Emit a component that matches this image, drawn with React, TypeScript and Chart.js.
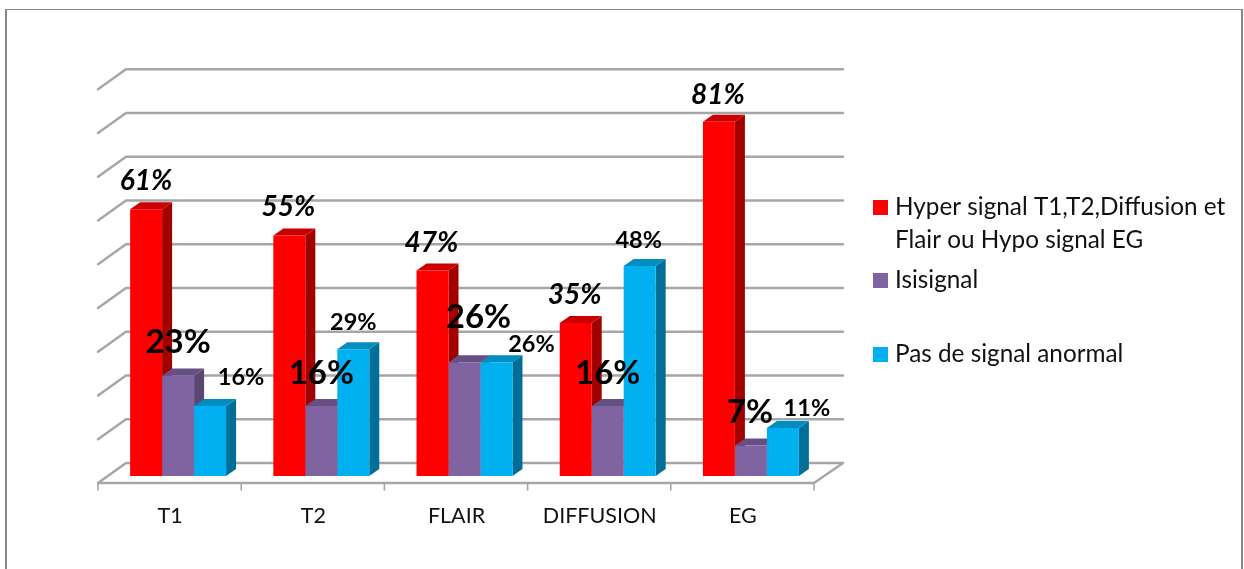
import React, { useEffect, useRef } from "react";
import { Chart, registerables } from "chart.js";

Chart.register(...registerables);

const categories = ["T1", "T2", "FLAIR", "DIFFUSION", "EG"];
const hyperSignal = [61, 55, 47, 35, 81];
const isoSignal = [23, 16, 26, 16, 7];
const noSignal = [16, 29, 26, 48, 11];
const seriesNames = ["Hyper signal T1,T2,Diffusion et\nFlair ou Hypo signal EG", "Isisignal", "Pas de signal anormal"];

// Front, side and top shades of each series' prisms.
const faces = [
  { front: "#ff0000", side: "#a30000", top: "#cc0000" },
  { front: "#8064a2", side: "#5b4673", top: "#664f82" },
  { front: "#00b0f0", side: "#006f98", top: "#008dc0" },
];

// Per-label nudges relative to the centre of the bar's top edge.
const labelNudges = [
  [[0, -28], [-1, -28], [-1, -27], [-1, -28], [-1, -27]],
  [[0, -33], [0, -33], [14, -45], [0, -33], [-1, -33]],
  [[31, -29], [0, -27], [35, -18], [-1, -26], [24, -19]],
];
const labelFonts = ["italic bold 28px Lato", "bold 33px Lato", "bold 23.5px Lato"];

const legendRows = [
  { swatchY: 200, lines: [215, 248] },
  { swatchY: 273, lines: [288] },
  { swatchY: 347, lines: [362] },
];

const GRID = "#a6a6a6";
const FLOOR_DX = 8.5;
const FLOOR_DY = 7;
const WALL_DX = 19.5;
const WALL_DY = 13;
const BAR_DX = 10;
const BAR_DY = 7;

const poly = (ctx: CanvasRenderingContext2D, pts: number[][], fill: string) => {
  ctx.beginPath();
  pts.forEach(([x, y], i) => (i ? ctx.lineTo(x, y) : ctx.moveTo(x, y)));
  ctx.closePath();
  ctx.fillStyle = fill;
  ctx.fill();
};

// White page with the chart frame (no bottom edge inside the canvas).
const framePlugin = {
  id: "frame",
  beforeDraw(chart: any) {
    const { ctx, width, height } = chart;
    ctx.save();
    ctx.fillStyle = "#ffffff";
    ctx.fillRect(0, 0, width, height);
    ctx.fillStyle = "#8a8a8a";
    ctx.fillRect(5, 9, 1236, 1);
    ctx.fillRect(5, 9, 2, height - 9);
    ctx.fillRect(1241, 9, 2, height - 9);
    ctx.restore();
  },
};

// Back wall, floor and the prism sides and tops behind the native bar fronts.
const depthPlugin = {
  id: "depth",
  beforeDatasetsDraw(chart: any) {
    const { ctx, chartArea, scales } = chart;
    const y = scales.y;
    const left = chartArea.left - FLOOR_DX;
    const right = chartArea.right - FLOOR_DX;
    const backLeft = chartArea.left + WALL_DX;
    const backRight = chartArea.right + WALL_DX + 1;
    const floorY = y.getPixelForValue(0) + FLOOR_DY;
    ctx.save();
    ctx.strokeStyle = GRID;
    ctx.lineWidth = 2.4;
    ctx.lineCap = "round";
    ctx.lineJoin = "round";
    y.ticks.forEach((t: any) => {
      const py = y.getPixelForValue(t.value);
      ctx.beginPath();
      ctx.moveTo(left, py + FLOOR_DY);
      ctx.lineTo(backLeft, py - WALL_DY);
      ctx.lineTo(backRight, py - WALL_DY);
      ctx.stroke();
    });
    ctx.beginPath();
    ctx.moveTo(left, floorY);
    ctx.lineTo(right, floorY);
    ctx.lineTo(backRight, floorY - WALL_DY - FLOOR_DY);
    ctx.stroke();
    ctx.lineWidth = 1.6;
    const step = (chartArea.right - chartArea.left) / categories.length;
    for (let i = 0; i <= categories.length; i++) {
      ctx.beginPath();
      ctx.moveTo(left + i * step, floorY);
      ctx.lineTo(left + i * step, floorY + 7);
      ctx.stroke();
    }
    ctx.restore();

    chart.data.datasets.forEach((_: any, d: number) => {
      chart.getDatasetMeta(d).data.forEach((bar: any) => {
        const l = bar.x - bar.width / 2;
        const r = bar.x + bar.width / 2;
        poly(ctx, [[r, bar.y], [r + BAR_DX, bar.y - BAR_DY], [r + BAR_DX, bar.base - BAR_DY], [r, bar.base]], faces[d].side);
        poly(ctx, [[l, bar.y], [l + BAR_DX, bar.y - BAR_DY], [r + BAR_DX, bar.y - BAR_DY], [r, bar.y]], faces[d].top);
      });
    });
  },
};

// Percentage labels and the legend block on the right.
const annotationPlugin = {
  id: "annotations",
  afterDatasetsDraw(chart: any) {
    const { ctx } = chart;
    ctx.save();
    ctx.fillStyle = "#000000";
    ctx.textAlign = "center";
    ctx.textBaseline = "middle";
    chart.data.datasets.forEach((ds: any, d: number) => {
      ctx.font = labelFonts[d];
      chart.getDatasetMeta(d).data.forEach((bar: any, i: number) => {
        const [nx, ny] = labelNudges[d][i];
        ctx.fillText(`${ds.data[i]}%`, bar.x + nx, bar.y + ny);
      });
    });
    ctx.textAlign = "left";
    ctx.textBaseline = "alphabetic";
    ctx.font = "24.3px Lato";
    chart.data.datasets.forEach((ds: any, d: number) => {
      const row = legendRows[d];
      ctx.fillStyle = faces[d].front;
      ctx.fillRect(873, row.swatchY, 15, 15);
      ctx.fillStyle = "#111111";
      ds.label.split("\n").forEach((line: string, n: number) => {
        ctx.fillText(line, 895, row.lines[n]);
      });
    });
    ctx.restore();
  },
};

export default function App() {
  const ref = useRef<HTMLCanvasElement>(null);
  useEffect(() => {
    document.body.style.margin = "0";
    const chart = new Chart(ref.current as HTMLCanvasElement, {
      type: "bar",
      data: {
        labels: categories,
        datasets: [hyperSignal, isoSignal, noSignal].map((values, i) => ({
          label: seriesNames[i],
          data: values,
          backgroundColor: faces[i].front,
          borderWidth: 0,
          barPercentage: 1,
          categoryPercentage: 0.67,
        })),
      },
      options: {
        animation: false,
        responsive: false,
        layout: { padding: { left: 106.5, right: 421.5, top: 82.25, bottom: 0 } },
        plugins: { legend: { display: false }, tooltip: { enabled: false } },
        scales: {
          x: {
            grid: { display: false, drawTicks: false },
            border: { display: false },
            afterFit: (scale: any) => {
              scale.height = 93;
            },
            ticks: {
              padding: 27,
              labelOffset: -8,
              maxRotation: 0,
              color: "#111111",
              font: { family: "Lato", size: 21.5 },
            },
          },
          y: {
            display: false,
            min: 0,
            max: 90,
            ticks: { stepSize: 10 },
          },
        },
      },
      plugins: [framePlugin, depthPlugin, annotationPlugin],
    } as any);
    return () => chart.destroy();
  }, []);
  return <canvas ref={ref} width={1244} height={569} style={{ display: "block" }} />;
}
